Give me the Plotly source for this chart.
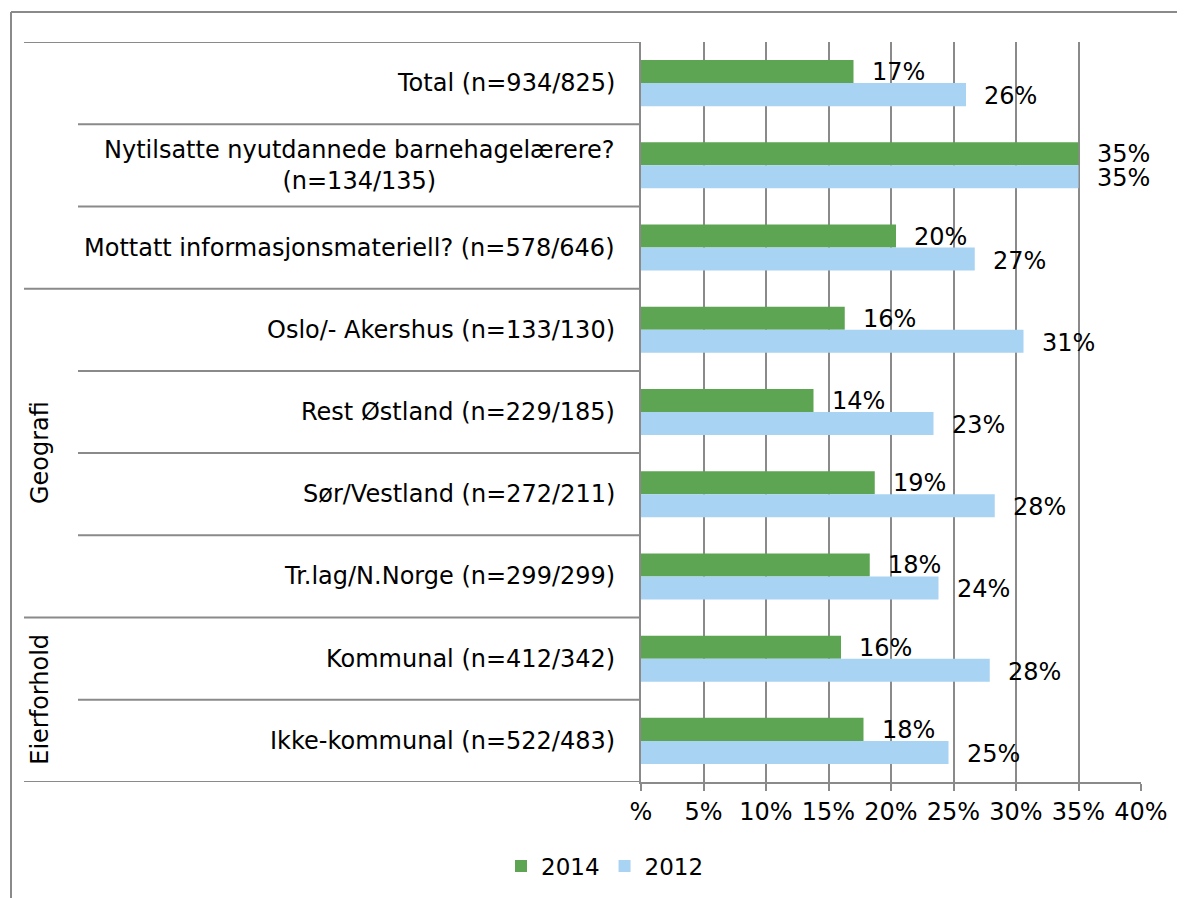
import plotly.graph_objects as go

categories = [
    "Total (n=934/825)",
    "Nytilsatte nyutdannede barnehagelærere?<br>(n=134/135)",
    "Mottatt informasjonsmateriell? (n=578/646)",
    "Oslo/- Akershus (n=133/130)",
    "Rest Østland (n=229/185)",
    "Sør/Vestland (n=272/211)",
    "Tr.lag/N.Norge (n=299/299)",
    "Kommunal (n=412/342)",
    "Ikke-kommunal (n=522/483)",
]
groups = [None, None, None, "Geografi", "Geografi", "Geografi", "Geografi",
          "Eierforhold", "Eierforhold"]
values_2014 = [17.0, 35.0, 20.4, 16.3, 13.8, 18.7, 18.3, 16.0, 17.8]
values_2012 = [26.0, 35.0, 26.7, 30.6, 23.4, 28.3, 23.8, 27.9, 24.6]
tick_vals = [0, 5, 10, 15, 20, 25, 30, 35, 40]
tick_text = ["%", "5%", "10%", "15%", "20%", "25%", "30%", "35%", "40%"]

GREEN = "#5DA553"
BLUE = "#A8D3F3"
GRID = "#8a8a8a"
FONT = "DejaVu Sans"
FS = 24

# page offset of the figure (browser body margin)
OFF = 8
W, H = 1185 - OFF, 898 - OFF
ML, MR, MT, MB = 641 - OFF, 44, 42 - OFF, 115
PW = W - ML - MR
PH = H - MT - MB


def px_x(p):
    # p: pixel x in the screenshot
    return (p - OFF - ML) / PW


def px_y(p):
    # p: pixel y in the screenshot
    return (H - MB - (p - OFF)) / PH


idx = list(range(len(categories)))

fig = go.Figure()
fig.add_trace(go.Bar(name="2014", y=idx, x=values_2014, orientation="h",
                     marker=dict(color=GREEN, line=dict(width=0))))
fig.add_trace(go.Bar(name="2012", y=idx, x=values_2012, orientation="h",
                     marker=dict(color=BLUE, line=dict(width=0))))

annotations = []
# data labels
for i in idx:
    annotations.append(dict(x=values_2014[i], y=i, xref="x", yref="y",
                            text=f"{round(values_2014[i])}%", showarrow=False,
                            xanchor="left", yanchor="middle", xshift=16, yshift=11,
                            font=dict(family=FONT, size=FS, color="black")))
    annotations.append(dict(x=values_2012[i], y=i, xref="x", yref="y",
                            text=f"{round(values_2012[i])}%", showarrow=False,
                            xanchor="left", yanchor="middle", xshift=16, yshift=-13,
                            font=dict(family=FONT, size=FS, color="black")))
# category labels
for i, c in enumerate(categories):
    annotations.append(dict(x=px_x(617), y=i, xref="paper", yref="y", text=c,
                            showarrow=False, xanchor="right", yanchor="middle",
                            align="center",
                            font=dict(family=FONT, size=FS, color="black")))
# group labels
seen = []
for g in groups:
    if g is not None and g not in seen:
        seen.append(g)
for g in seen:
    members = [i for i, gg in enumerate(groups) if gg == g]
    mid = (members[0] + members[-1]) / 2
    annotations.append(dict(x=px_x(40), y=mid, xref="paper", yref="y", text=g,
                            showarrow=False, textangle=-90, xanchor="center",
                            yanchor="middle",
                            font=dict(family=FONT, size=FS, color="black")))

shapes = []
n = len(categories)
for b in range(n + 1):
    if b == 0 or b == n or groups[b - 1] != groups[b]:
        x0 = px_x(24)
    else:
        x0 = px_x(78)
    shapes.append(dict(type="line", xref="paper", yref="y", x0=x0, x1=0,
                       y0=b - 0.5, y1=b - 0.5, line=dict(color=GRID, width=2)))
# outer frame
shapes.append(dict(type="line", xref="paper", yref="paper", x0=px_x(11), x1=px_x(1200),
                   y0=px_y(12), y1=px_y(12), line=dict(color=GRID, width=2)))
shapes.append(dict(type="line", xref="paper", yref="paper", x0=px_x(11), x1=px_x(11),
                   y0=px_y(12), y1=px_y(910), line=dict(color=GRID, width=2)))

fig.update_layout(
    width=W, height=H,
    margin=dict(l=ML, r=MR, t=MT, b=MB),
    paper_bgcolor="white", plot_bgcolor="white",
    barmode="group", bargap=0.44, bargroupgap=0,
    font=dict(family=FONT, size=FS, color="black"),
    xaxis=dict(range=[0, 40], tickvals=tick_vals, ticktext=tick_text,
               showgrid=True, gridcolor=GRID, gridwidth=1.5,
               showline=True, linecolor=GRID, linewidth=2,
               ticks="outside", ticklen=7, tickwidth=1.5, tickcolor=GRID,
               zeroline=False, tickfont=dict(family=FONT, size=FS, color="black")),
    yaxis=dict(range=[n - 0.5, -0.5], showticklabels=False, showgrid=False,
               showline=True, linecolor=GRID, linewidth=2, zeroline=False,
               ticks=""),
    legend=dict(orientation="h", x=px_x(605), xanchor="center",
                y=px_y(866), yanchor="middle",
                font=dict(family=FONT, size=FS - 1, color="black"),
                itemwidth=30),
    annotations=annotations,
    shapes=shapes,
)

fig.write_html("out.html")
